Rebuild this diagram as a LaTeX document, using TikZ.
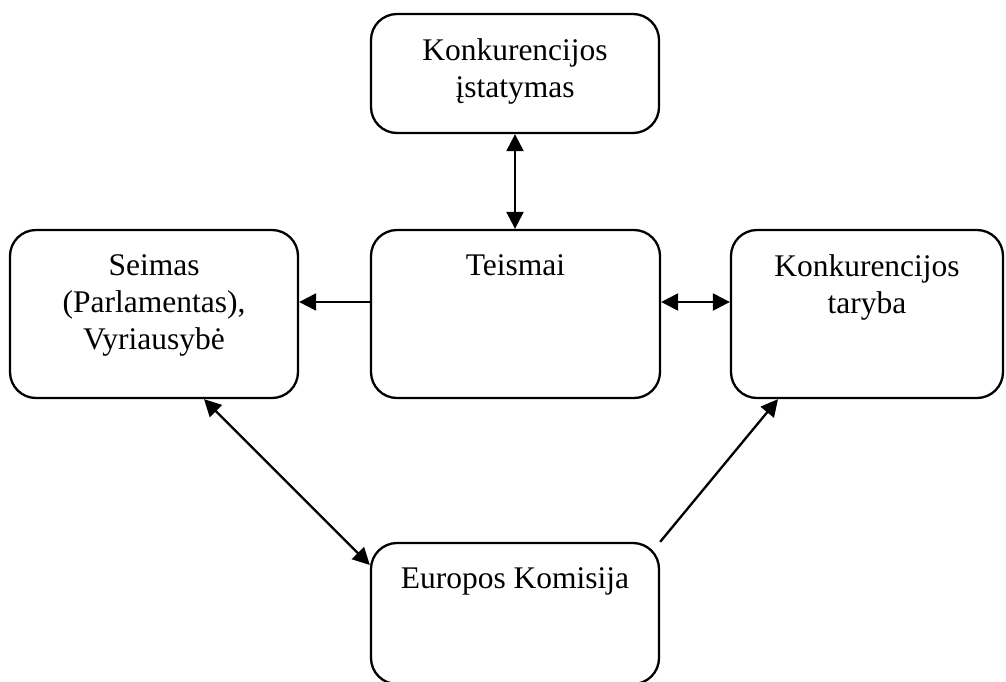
\documentclass[tikz,border=0pt]{standalone}
\usepackage{fontspec}
\setmainfont{Liberation Serif}
\usetikzlibrary{arrows.meta}
\begin{document}
\begin{tikzpicture}[x=1pt,y=-1pt,
  box/.style={draw=black, line width=2.3pt, rounded corners=26pt, inner sep=0pt},
  lbl/.style={anchor=north, inner sep=0pt, align=center, font=\fontsize{31.5}{37}\selectfont},
  tip/.style={Triangle[length=17pt,width=17pt]},
  conn/.style={line width=2.3pt, -{Triangle[length=17pt,width=17pt]}},
  dconn/.style={line width=2.3pt, {Triangle[length=17pt,width=17pt]}-{Triangle[length=17pt,width=17pt]}}]
\useasboundingbox (0,0) rectangle (1006,681);
\clip (0,0) rectangle (1006,681);
% boxes
\node[box, minimum width=288pt, minimum height=119pt] (top) at (515,73.5) {};
\node[box, minimum width=289pt, minimum height=168pt] (teismai) at (515.5,314) {};
\node[box, minimum width=288pt, minimum height=168pt] (seimas) at (154,314) {};
\node[box, minimum width=272pt, minimum height=168pt] (taryba) at (867,314) {};
\node[box, minimum width=288pt, minimum height=141pt] (europos) at (515,613.5) {};
% labels
\node[lbl] (tTop) at (515,38.5) {Konkurencijos\\įstatymas};
\node[lbl] (tTeismai) at (515.5,254.5) {Teismai};
\node[lbl] (tSeimas) at (154,254.5) {Seimas\\(Parlamentas),\\Vyriausybė};
\node[lbl] (tTaryba) at (867,254.5) {Konkurencijos\\taryba};
\node[lbl] (tEuropos) at (515,567.5) {Europos Komisija};
% connectors
\draw[dconn] (top.south) -- (top.south |- teismai.north);
\draw[conn] ([yshift=12pt]teismai.west) -- ([yshift=12pt]seimas.east);
\draw[dconn] ([yshift=12pt]teismai.east) -- ([yshift=12pt]taryba.west);
\draw[dconn] ([xshift=50pt]seimas.south) -- ([yshift=48.5pt]europos.west);
\draw[conn] (europos.north east) -- ([xshift=-89pt]taryba.south);
\end{tikzpicture}
\end{document}
